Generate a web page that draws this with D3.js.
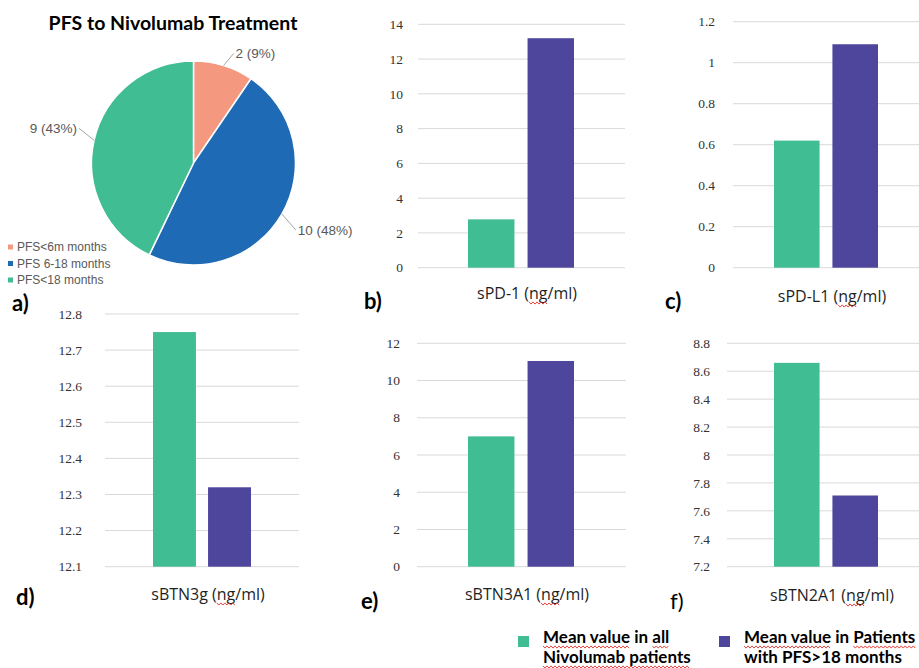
<!DOCTYPE html>
<html>
<head>
<meta charset="utf-8">
<script src="https://cdn.jsdelivr.net/npm/d3@7"></script>
<style>
  html, body { margin: 0; padding: 0; background: #fff; }
  svg { display: block; }
</style>
</head>
<body>
<svg id="fig" width="919" height="668"></svg>
<script>
// ---- Pie: PFS groups ----
const pfsTitle = "PFS to Nivolumab Treatment";
const pfsGroups = ["PFS<6m months", "PFS 6-18 months", "PFS<18 months"];
const pfsCounts = [2, 10, 9];
const pfsPercents = [9, 48, 43];
const pfsColors = ["#F4997F", "#1F6AB4", "#41BD93"];

// ---- Bar panels: soluble checkpoint markers ----
const seriesNames = [
  ["Mean value in all", "Nivolumab patients"],
  ["Mean value in Patients", "with PFS>18 months"]
];
const seriesColors = ["#41BD93", "#4D469C"];
const markers = ["sPD-1 (ng/ml)", "sPD-L1 (ng/ml)", "sBTN3g (ng/ml)", "sBTN3A1 (ng/ml)", "sBTN2A1 (ng/ml)"];
const meanAll = [2.78, 0.62, 12.75, 7.0, 8.66];
const meanLongPFS = [13.2, 1.09, 12.32, 11.05, 7.71];
const tickValues = [
  [0, 2, 4, 6, 8, 10, 12, 14],
  [0, 0.2, 0.4, 0.6, 0.8, 1, 1.2],
  [12.1, 12.2, 12.3, 12.4, 12.5, 12.6, 12.7, 12.8],
  [0, 2, 4, 6, 8, 10, 12],
  [7.2, 7.4, 7.6, 7.8, 8, 8.2, 8.4, 8.6, 8.8]
];
const panelLetters = ["b)", "c)", "d)", "e)", "f)"];

const svg = d3.select("#fig");
const GREY_TEXT = "#595959";
const SANS = "'Liberation Sans', Arial, sans-serif";
const LABEL_FONT = "'Open Sans', sans-serif";
const BOLD_FONT = "Lato, 'Open Sans', sans-serif";
const SERIF = "'Liberation Serif', 'Times New Roman', 'DejaVu Serif', serif";

// red spell-check squiggle under a substring of a text node
function squiggle(textSel, start, len, dy) {
  const node = textSel.node();
  const x0 = node.getStartPositionOfChar(start).x;
  const e = node.getEndPositionOfChar(start + len - 1).x;
  const y = +textSel.attr("y") + dy;
  const pts = [];
  const step = 2;
  let up = true;
  for (let x = x0; x <= e; x += step) {
    pts.push([x, y + (up ? -1.1 : 1.1)]);
    up = !up;
  }
  svg.append("path")
    .attr("d", d3.line()(pts))
    .attr("fill", "none")
    .attr("stroke", "#E0302A")
    .attr("stroke-width", 0.9);
}

// ================= a) pie =================
{
  const cx = 193.5, cy = 163, R = 102;
  const g = svg.append("g").attr("transform", `translate(${cx},${cy})`);
  const pie = d3.pie().sort(null).value(d => d);
  const arcs = pie(pfsCounts);
  const arc = d3.arc().innerRadius(0).outerRadius(R);

  g.selectAll("path.slice").data(arcs).join("path")
    .attr("class", "slice")
    .attr("d", arc)
    .attr("fill", (d, i) => pfsColors[i])
    .attr("stroke", "#fff")
    .attr("stroke-width", 1.5);

  // leader lines + labels
  const labelOffsets = [[10, -12], [14, 16], [-15, -12]];
  arcs.forEach((d, i) => {
    const a = (d.startAngle + d.endAngle) / 2;
    const px = Math.sin(a) * R, py = -Math.cos(a) * R;
    const lx = px + labelOffsets[i][0], ly = py + labelOffsets[i][1];
    g.append("line")
      .attr("x1", px).attr("y1", py).attr("x2", lx).attr("y2", ly)
      .attr("stroke", "#A6A6A6").attr("stroke-width", 1);
    const right = Math.sin(a) > 0;
    g.append("text")
      .attr("x", lx + (right ? 2 : -2))
      .attr("y", ly)
      .attr("dy", "0.35em")
      .attr("text-anchor", right ? "start" : "end")
      .attr("font-family", SANS)
      .attr("font-size", 13.5)
      .attr("fill", GREY_TEXT)
      .text(`${pfsCounts[i]} (${pfsPercents[i]}%)`);
  });

  svg.append("text")
    .attr("x", 173).attr("y", 30)
    .attr("text-anchor", "middle")
    .attr("font-family", BOLD_FONT)
    .attr("font-weight", 700)
    .attr("font-size", 19.5)
    .attr("fill", "#000")
    .text(pfsTitle);

  // legend
  const leg = svg.append("g").attr("transform", "translate(8,247)");
  pfsGroups.forEach((name, i) => {
    leg.append("rect")
      .attr("x", 0).attr("y", i * 16.5 - 2.5)
      .attr("width", 5).attr("height", 5)
      .attr("fill", pfsColors[i]);
    leg.append("text")
      .attr("x", 9).attr("y", i * 16.5)
      .attr("dy", "0.35em")
      .attr("font-family", SANS)
      .attr("font-size", 12)
      .attr("fill", GREY_TEXT)
      .text(name);
  });

  svg.append("text")
    .attr("x", 12).attr("y", 311)
    .attr("font-family", BOLD_FONT).attr("font-weight", 700)
    .attr("font-size", 22).text("a)");
}

// ================= b) – f) bar panels =================
const layout = [
  { x0: 418, x1: 625, y0: 24.3, y1: 267.7, cx: 521, half: 53, tickX: 403, labY: 299, letX: 364, letY: 309, bold: true },
  { x0: 733, x1: 919, y0: 21.7, y1: 267.7, cx: 826, half: 52, tickX: 715, labY: 302, letX: 665, letY: 309, bold: true },
  { x0: 105, x1: 299, y0: 314, y1: 566.7, cx: 202, half: 49, tickX: 82, labY: 600, letX: 16, letY: 605, bold: true },
  { x0: 417, x1: 626, y0: 343.3, y1: 566.7, cx: 521, half: 53, tickX: 400, labY: 600, letX: 361, letY: 609, bold: true },
  { x0: 727, x1: 925, y0: 343.3, y1: 566.7, cx: 826, half: 52, tickX: 710, labY: 601, letX: 670, letY: 609, bold: false }
];

markers.forEach((name, k) => {
  const L = layout[k];
  const ticks = tickValues[k];
  const y = d3.scaleLinear()
    .domain([ticks[0], ticks[ticks.length - 1]])
    .range([L.y1, L.y0]);
  const x = d3.scaleBand()
    .domain([0, 1])
    .range([L.cx - L.half, L.cx + L.half])
    .paddingInner(0.22);
  const g = svg.append("g");

  // gridlines
  g.selectAll("line.grid").data(ticks).join("line")
    .attr("class", "grid")
    .attr("x1", L.x0).attr("x2", L.x1)
    .attr("y1", d => y(d)).attr("y2", d => y(d))
    .attr("stroke", "#D9D9D9").attr("stroke-width", 1);

  // y tick labels
  g.selectAll("text.tick").data(ticks).join("text")
    .attr("class", "tick")
    .attr("x", L.tickX)
    .attr("y", d => y(d))
    .attr("dy", "0.35em")
    .attr("text-anchor", "end")
    .attr("font-family", SERIF)
    .attr("font-size", 13.5)
    .attr("fill", "#333")
    .text(d => String(d));

  // bars
  const vals = [meanAll[k], meanLongPFS[k]];
  g.selectAll("rect.bar").data(vals).join("rect")
    .attr("class", "bar")
    .attr("x", (d, i) => x(i))
    .attr("width", x.bandwidth())
    .attr("y", d => y(d))
    .attr("height", d => y(ticks[0]) - y(d))
    .attr("fill", (d, i) => seriesColors[i]);

  // category label
  const lab = g.append("text")
    .attr("x", L.cx + 6)
    .attr("y", L.labY)
    .attr("text-anchor", "middle")
    .attr("font-family", LABEL_FONT)
    .attr("font-size", 16)
    .attr("fill", "#1f1f1f")
    .text(name);
  const ngIdx = name.indexOf("ng");
  squiggle(lab, ngIdx, 2, 4);

  // panel letter
  svg.append("text")
    .attr("x", L.letX).attr("y", L.letY)
    .attr("font-family", BOLD_FONT)
    .attr("font-weight", L.bold ? 700 : 400)
    .attr("font-size", 22)
    .text(panelLetters[k]);
});

// ================= series legend =================
{
  const legX = [518, 719];
  const legY = 636;
  seriesNames.forEach((lines, i) => {
    svg.append("rect")
      .attr("x", legX[i]).attr("y", legY)
      .attr("width", 11).attr("height", 11)
      .attr("fill", seriesColors[i]);
    lines.forEach((line, j) => {
      const t = svg.append("text")
        .attr("x", legX[i] + 25)
        .attr("y", 643 + j * 20)
        .attr("font-family", BOLD_FONT)
        .attr("font-weight", 700)
        .attr("font-size", 17)
        .attr("fill", "#000")
        .text(line);
      // spell-check marks under the flagged words
      const flagged = i === 0
        ? (j === 0 ? ["Mean value", "all"] : ["Nivolumab patients"])
        : (j === 0 ? ["Mean value", "Patients"] : []);
      flagged.forEach(w => {
        const idx = line.indexOf(w);
        squiggle(t, idx, w.length, 4);
      });
    });
  });
}
</script>
</body>
</html>
